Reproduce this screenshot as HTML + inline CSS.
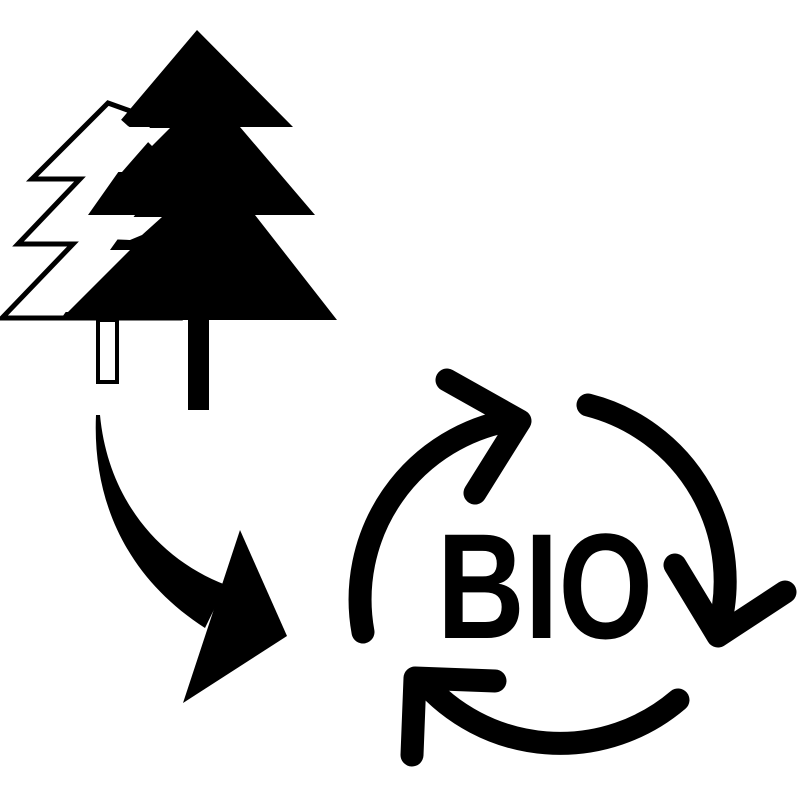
<!DOCTYPE html>
<html><head><meta charset="utf-8"><style>html,body{margin:0;padding:0;background:#fff}svg{display:block}</style></head>
<body>
<svg width="800" height="800" viewBox="0 0 800 800">
  <g>
    <polygon points="108,103 175,127 150,150 125,175 170,215 180,318 2,318 73,244 18,244 80,179 32,179" fill="#fff" stroke="#000" stroke-width="5" stroke-linejoin="miter"/>
    <rect x="98" y="320" width="19" height="62" fill="#fff" stroke="#000" stroke-width="4"/>
  </g>
  <g>
    <polygon points="197,30 293,127 240,127 315,215 255,215 337,320 60,320 135,215 88,215 150,127 115,127" fill="#000"/>
    <rect x="188" y="318" width="21" height="92" fill="#000"/>
  </g>
  <g fill="#fff">
    <polygon points="134,128 170,128 152,146"/>
    <polygon points="110,110 118,117 128,126 150,140 122,172 50,172"/>
    <polygon points="83,217 162,217 142,235 130,240 80,238 45,238"/>
    <polygon points="78,250 130,250 95,285 68,312 18,312"/>
  </g>
  <g fill="#000">
    <path d="M96,415 C92,505 130,580 205,628 L226,585 C160,560 108,500 100,415 Z"/>
    <polygon points="240,530 287,636 183,703"/>
  </g>
  <g fill="none" stroke="#000" stroke-width="23" stroke-linecap="round" stroke-linejoin="round">
    <path d="M363,632 A182,182 0 0 1 512,420"/>
    <polyline points="447,380 520,421 475,493"/>
    <path d="M588,405 A182,182 0 0 1 718,632"/>
    <polyline points="675,565 718,636 785,592"/>
    <path d="M678,700 A182,182 0 0 1 422,680"/>
    <polyline points="495,681 415,678 412,755"/>
  </g>
  <text x="437" y="638" font-family="Liberation Sans, sans-serif" font-weight="bold" font-size="150" textLength="216" lengthAdjust="spacingAndGlyphs" fill="#000">BIO</text>
</svg>
</body></html>
